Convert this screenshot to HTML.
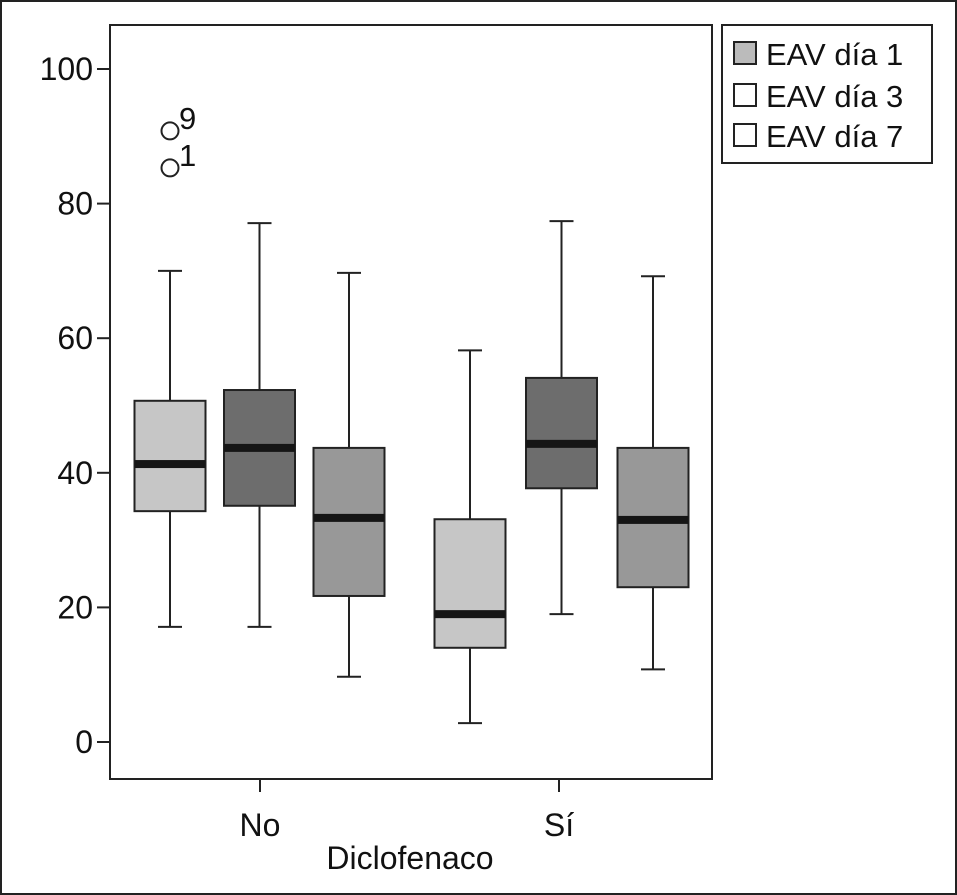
<!DOCTYPE html>
<html><head><meta charset="utf-8"><style>
html,body{margin:0;padding:0;background:#fff}
svg{display:block;font-family:"Liberation Sans",Arial,sans-serif}
</style></head><body>
<svg id="chart" width="957" height="895" viewBox="0 0 957 895">
<rect x="1" y="1" width="955" height="893" fill="#fff" stroke="#222" stroke-width="2"/>
<rect x="110" y="25" width="602" height="754" fill="#fff" stroke="#222" stroke-width="2"/>
<g id="yaxis"></g>
<g id="xaxis"></g>
<g id="boxes"></g>
<text x="410" y="869" font-size="32" text-anchor="middle" fill="#111">Diclofenaco</text>
<g>
<rect x="722" y="25" width="210" height="138" fill="#fff" stroke="#222" stroke-width="2"/>
<rect x="734" y="42" width="22" height="22" fill="#bbb" stroke="#222" stroke-width="2"/>
<text x="766" y="65" font-size="31" fill="#111">EAV día 1</text>
<rect x="734" y="84" width="22" height="22" fill="#fff" stroke="#222" stroke-width="2"/>
<text x="766" y="107" font-size="31" fill="#111">EAV día 3</text>
<rect x="734" y="124" width="22" height="22" fill="#fff" stroke="#222" stroke-width="2"/>
<text x="766" y="147" font-size="31" fill="#111">EAV día 7</text>
</g>
</svg>
<script>
const groups = ["No", "Sí"];
const series = ["EAV día 1", "EAV día 3", "EAV día 7"];
const whiskerLow  = [17.1, 17.1, 9.7, 2.8, 19.0, 10.8];
const q1          = [34.3, 35.1, 21.7, 14.0, 37.7, 23.0];
const medians     = [41.3, 43.7, 33.3, 19.0, 44.3, 33.0];
const q3          = [50.7, 52.3, 43.7, 33.1, 54.1, 43.7];
const whiskerHigh = [70.0, 77.1, 69.7, 58.2, 77.4, 69.2];
const outlierVals = [85.3, 90.8];
const outlierLabels = ["1", "9"];
const outlierBox = [0, 0];
const yTicks = [0, 20, 40, 60, 80, 100];

const NS = "http://www.w3.org/2000/svg";
const y = v => 742 - v * 6.73;
const groupCenter = g => 260 + g * 299;
const boxCenter = i => {
  const g = Math.floor(i / 3), k = i % 3;
  return g === 0 ? 170 + k * 89.5 : 470 + k * 91.5;
};
const fills = ["#c6c6c6", "#6d6d6d", "#989898"];
function mk(tag, attrs, parent) {
  const e = document.createElementNS(NS, tag);
  for (const k in attrs) e.setAttribute(k, attrs[k]);
  parent.appendChild(e);
  return e;
}
const ya = document.getElementById("yaxis");
yTicks.forEach(t => {
  const l = mk("line", {x1: 97, x2: 110, y1: y(t), y2: y(t), stroke: "#222", "stroke-width": 2}, ya);
  
  
  const tx = mk("text", {x: 93, y: y(t) + 11, "font-size": 32, "text-anchor": "end", fill: "#111"}, ya);
  tx.textContent = t;
  
  
});
const xa = document.getElementById("xaxis");
groups.forEach((g, i) => {
  const l = mk("line", {x1: groupCenter(i), x2: groupCenter(i), y1: 779, y2: 792, stroke: "#222", "stroke-width": 2}, xa);
  
  
  const tx = mk("text", {x: groupCenter(i), y: 836, "font-size": 32, "text-anchor": "middle", fill: "#111"}, xa);
  tx.textContent = g;
  
  
});
const bx = document.getElementById("boxes");
medians.forEach((m, i) => {
  const c = boxCenter(i);
  const g = mk("g", {}, bx);
  
  
  mk("line", {x1: c, x2: c, y1: y(whiskerHigh[i]), y2: y(q3[i]), stroke: "#222", "stroke-width": 2}, g);
  mk("line", {x1: c, x2: c, y1: y(q1[i]), y2: y(whiskerLow[i]), stroke: "#222", "stroke-width": 2}, g);
  mk("line", {x1: c - 12, x2: c + 12, y1: y(whiskerHigh[i]), y2: y(whiskerHigh[i]), stroke: "#222", "stroke-width": 2}, g);
  mk("line", {x1: c - 12, x2: c + 12, y1: y(whiskerLow[i]), y2: y(whiskerLow[i]), stroke: "#222", "stroke-width": 2}, g);
  mk("rect", {x: c - 35.5, y: y(q3[i]), width: 71, height: y(q1[i]) - y(q3[i]), fill: fills[i % 3], stroke: "#222", "stroke-width": 2}, g);
  mk("rect", {x: c - 35.5, y: y(m) - 4, width: 71, height: 8, fill: "#151515"}, g);
});
outlierVals.forEach((v, k) => {
  const c = boxCenter(outlierBox[k]);
  const ci = mk("circle", {cx: c, cy: y(v), r: 8.5, fill: "#fff", stroke: "#222", "stroke-width": 2}, bx);
  
  
  const tx = mk("text", {x: c + 9, y: y(v) - 2, "font-size": 31, fill: "#111"}, bx);
  tx.textContent = outlierLabels[k];
  
  
});
</script>
</body></html>
